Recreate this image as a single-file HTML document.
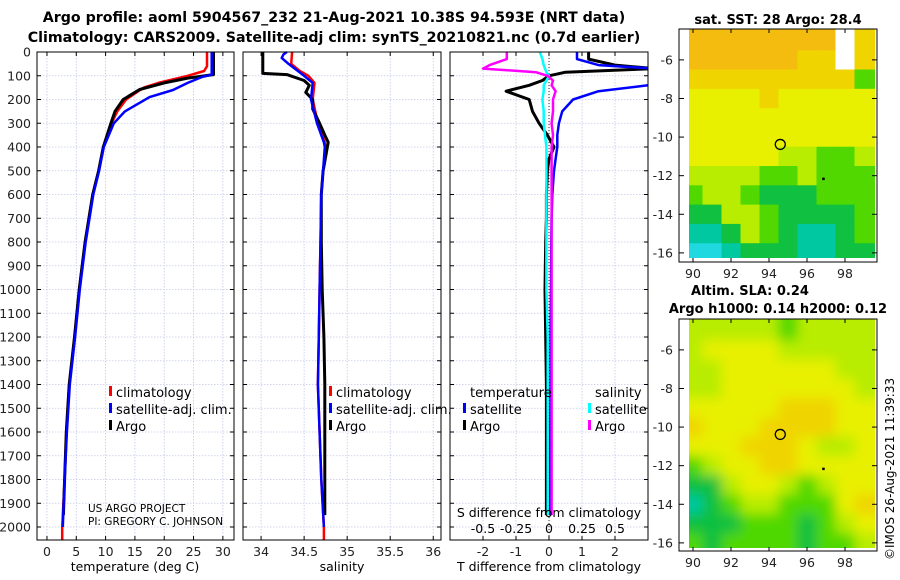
<!DOCTYPE html>
<html><head><meta charset="utf-8"><style>
body{margin:0;background:#fff;}
svg{display:block;font-family:"DejaVu Sans","Liberation Sans",sans-serif;}
</style></head><body>
<svg id="fig" width="900" height="580" viewBox="0 0 900 580" xmlns="http://www.w3.org/2000/svg">
<g font-weight="bold" font-size="14.2" text-anchor="middle" fill="#000">
<text x="334" y="22">Argo profile: aoml 5904567_232 21-Aug-2021 10.38S 94.593E (NRT data)</text>
<text x="334" y="42">Climatology: CARS2009. Satellite-adj clim: synTS_20210821.nc (0.7d earlier)</text>
</g>
<g id="panels"></g>
<g id="maps"></g>
<text x="0" y="0" transform="translate(894,560) rotate(-90)" font-size="12">©IMOS 26-Aug-2021 11:39:33</text>
</svg>
<script>
// ---- profile data (depth m) ----
const tDepthClim = [0,60,80,100,130,150,200,250,300,400,500,600,800,1000,1200,1400,1600,1800,2000,2055];
const tClim      = [27.3,27.3,26.8,24,19,16.5,13.5,12,11,9.6,8.8,7.8,6.5,5.5,4.7,3.8,3.3,3.0,2.6,2.6];
const tDepthSat  = [0,95,105,130,160,190,250,300,400,500,600,800,1000,1200,1400,1600,1800,2000];
const tSat       = [28.1,28.1,26.5,24,21.5,17.5,13.3,11.4,9.7,8.9,7.9,6.6,5.6,4.8,3.9,3.4,3.0,2.7];
const tDepthArgo = [0,95,110,130,158,200,250,300,400,500,600,800,1000,1200,1400,1600,1800,1950];
const tArgo      = [28.4,28.4,24,20,15.8,13.0,11.6,10.9,9.6,8.8,7.8,6.5,5.5,4.7,3.8,3.3,3.0,2.8];
const sDepthClim = [0,50,80,100,130,200,300,380,400,500,600,800,1000,1200,1400,1600,1800,2000,2055];
const sClim      = [34.36,34.35,34.45,34.55,34.62,34.6,34.66,34.74,34.75,34.72,34.70,34.69,34.68,34.67,34.66,34.68,34.70,34.73,34.73];
const sDepthSat  = [0,10,25,50,100,130,200,300,380,400,500,600,800,1000,1200,1400,1600,1800,2000];
const sSat       = [34.30,34.26,34.24,34.32,34.5,34.6,34.58,34.65,34.73,34.74,34.72,34.70,34.69,34.68,34.67,34.66,34.68,34.70,34.73];
const sDepthArgo = [0,90,95,120,140,170,200,240,300,350,380,420,500,600,800,1000,1200,1400,1600,1800,1950];
const sArgo      = [34.02,34.02,34.3,34.5,34.56,34.52,34.6,34.6,34.68,34.74,34.78,34.76,34.72,34.70,34.70,34.71,34.73,34.74,34.74,34.74,34.74];
const dDepth     = [0,30,55,70,85,100,120,140,165,200,250,300,350,400,450,500,600,700,800,1000,1200,1400,1600,1800,1950];
const dTSat      = [0.85,0.85,1.5,3.2,3.2,3.2,3.2,3.0,1.5,0.73,0.4,0.3,0.25,0.25,0.2,0.15,0.1,0.08,0.07,0.06,0.05,0.05,0.04,0.04,0.04];
const dTArgo     = [1.2,1.2,2.0,3.2,0.5,0.0,-0.2,-0.6,-1.3,-0.6,-0.5,-0.3,-0.05,0.15,0.0,-0.05,-0.08,-0.08,-0.1,-0.12,-0.1,-0.08,-0.08,-0.08,-0.08];
const dSSat      = [-0.07,-0.05,-0.04,-0.03,-0.02,0.0,-0.02,-0.04,-0.04,-0.05,-0.04,-0.04,-0.03,-0.02,-0.02,-0.02,-0.02,-0.02,-0.02,-0.02,-0.01,-0.01,-0.01,-0.01,-0.01];
const dSArgo     = [-0.32,-0.32,-0.45,-0.5,-0.1,-0.01,0.03,0.02,0.05,0.03,0.03,0.02,0.03,0.02,0.02,0.02,0.02,0.02,0.02,0.02,0.02,0.02,0.02,0.02,0.02];
const depthTicks = [0,100,200,300,400,500,600,700,800,900,1000,1100,1200,1300,1400,1500,1600,1700,1800,1900,2000];
const tTicks = [0,5,10,15,20,25,30];
const sTicks = [34,34.5,35,35.5,36];
const sTickLabels = ["34","34.5","35","35.5","36"];
const dTTicks = [-2,-1,0,1,2];
const dSTicks = [-0.5,-0.25,0,0.25,0.5];
const dSTickLabels = ["-0.5","-0.25","0","0.25","0.5"];
// ---- map data (rows lat -5..-16, cols lon 90..99); 0 cyan .. 7 orange, 9 blank ----
const sstGrid = [
[7,7,7,7,7,7,7,7,9,6],
[7,7,7,7,7,7,6,6,9,6],
[6,6,6,6,6,6,6,6,6,3],
[5,5,5,5,6,5,5,5,5,5],
[5,5,5,5,5,5,5,5,5,5],
[5,5,5,5,5,5,5,5,5,5],
[5,5,5,5,5,4,4,3,3,4],
[4,4,4,4,3,3,4,3,3,3],
[3,4,4,3,2,2,2,3,3,3],
[2,2,4,4,3,2,2,2,2,3],
[1,1,2,4,3,2,1,1,2,3],
[0,0,1,2,2,2,1,1,2,2]];
const slaGrid = [
[4,4,4,4,4,3,4,4,4,4],
[4,5,5,5,5,4,4,4,4,4],
[4,4,5,5,5,5,5,5,4,4],
[4,4,5,5,5,5,5,5,5,4],
[5,5,5,5,5,6,6,6,5,5],
[6,5,5,5,6,6,6,6,5,5],
[5,5,5,6,6,6,5,4,4,5],
[3,4,5,5,6,6,5,5,5,5],
[2,2,4,5,5,4,3,4,5,5],
[1,2,3,4,4,3,3,3,5,6],
[2,2,2,3,3,3,2,3,4,5],
[3,2,3,3,3,3,2,3,3,4]];
const latTicks = [-6,-8,-10,-12,-14,-16];
const lonTicks = [90,92,94,96,98];
const floatLon = 94.593, floatLat = -10.38;

const NS="http://www.w3.org/2000/svg";
function mk(tag, attrs, parent){const e=document.createElementNS(NS,tag);for(const k in attrs)e.setAttribute(k,attrs[k]);parent.appendChild(e);return e;}
const Y0=52, KY=0.2375;
const yD = d => Y0 + d*KY;
const panels = document.getElementById('panels');

function panel(name, x0, x1, xMin, xMax){
  const g = mk('g',{},panels);
  
  
  const xs = v => x0 + (v - xMin)/(xMax - xMin)*(x1 - x0);
  return {g, xs};
}
function grid(p, ticks, x0, x1){
  depthTicks.forEach(d=>{const l=mk('line',{x1:x0,x2:x1,y1:yD(d),y2:yD(d),stroke:'#c4c8e8','stroke-width':0.8,'stroke-dasharray':'1.5,1.5'},p.g);
    
    });
  ticks.forEach(v=>{const l=mk('line',{x1:p.xs(v),x2:p.xs(v),y1:Y0,y2:540,stroke:'#c4c8e8','stroke-width':0.8,'stroke-dasharray':'1.5,1.5'},p.g);
    
    });
}
function frame(p,x0,x1,ticks,labels,yLab){
  const r=mk('rect',{x:x0,y:Y0,width:x1-x0,height:540-Y0,fill:'none',stroke:'#000','stroke-width':1},p.g);
  
  
  depthTicks.forEach(d=>{mk('line',{x1:x0,x2:x0+4,y1:yD(d),y2:yD(d),stroke:'#000'},p.g);mk('line',{x1:x1-4,x2:x1,y1:yD(d),y2:yD(d),stroke:'#000'},p.g);});
  ticks.forEach((v,i)=>{mk('line',{x1:p.xs(v),x2:p.xs(v),y1:540,y2:536,stroke:'#000'},p.g);mk('line',{x1:p.xs(v),x2:p.xs(v),y1:Y0,y2:Y0+4,stroke:'#000'},p.g);
    const t=mk('text',{x:p.xs(v),y:yLab,'font-size':12.5,'text-anchor':'middle',fill:'#222'},p.g);t.textContent=labels[i];
    
    });
}
function line(p, xsF, xv, dv, color, w, name){
  const pts = dv.map((d,i)=>xsF(xv[i]).toFixed(1)+','+yD(d).toFixed(1)).join(' ');
  const l=mk('polyline',{points:pts,fill:'none',stroke:color,'stroke-width':w,'stroke-linejoin':'round'},p.g);
  
  
}
function txt(p,x,y,s,fs,name,anchor){const t=mk('text',{x,y,'font-size':fs,'text-anchor':anchor||'start',fill:'#000'},p.g);t.textContent=s;
  
  return t;}
function legMark(p,x,y,c){const r=mk('rect',{x:x,y:y-11,width:3,height:10,fill:c},p.g);
  
  }

// Panel 1: temperature
const p1 = panel('temperature-panel',37,234,-1.7,31.9);
grid(p1,tTicks,37,234);
depthTicks.forEach(d=>{const t=mk('text',{x:31,y:yD(d)+4.5,'font-size':12.5,'text-anchor':'end',fill:'#222'},p1.g);t.textContent=d;
  
  });
line(p1,p1.xs,tClim,tDepthClim,'#ff0000',2.5,'temperature-climatology-line');
line(p1,p1.xs,tArgo,tDepthArgo,'#000',3,'temperature-argo-line');
line(p1,p1.xs,tSat,tDepthSat,'#0000ff',2.5,'temperature-satellite-line');
frame(p1,37,234,tTicks,tTicks.map(String),556);
txt(p1,135,571,'temperature (deg C)',12.5,'temperature-axis-title','middle');
legMark(p1,109,397,'#f00');txt(p1,116,397,'climatology',13,'legend-climatology');
legMark(p1,109,414,'#00f');txt(p1,116,414,'satellite-adj. clim.',13,'legend-satellite-adj');
legMark(p1,109,431,'#000');txt(p1,116,431,'Argo',13,'legend-argo');
txt(p1,88,512,'US ARGO PROJECT',10.5,'project-credit');
txt(p1,88,525,'PI: GREGORY C. JOHNSON',10.5,'pi-credit');

// Panel 2: salinity
const p2 = panel('salinity-panel',243,441,33.79,36.09);
grid(p2,sTicks,243,441);
line(p2,p2.xs,sClim,sDepthClim,'#ff0000',2.5,'salinity-climatology-line');
line(p2,p2.xs,sArgo,sDepthArgo,'#000',3,'salinity-argo-line');
line(p2,p2.xs,sSat,sDepthSat,'#0000ff',2.5,'salinity-satellite-line');
frame(p2,243,441,sTicks,sTickLabels,556);
txt(p2,342,571,'salinity',12.5,'salinity-axis-title','middle');
legMark(p2,329,397,'#f00');txt(p2,336,397,'climatology',13,'legend-climatology');
legMark(p2,329,414,'#00f');txt(p2,336,414,'satellite-adj. clim.',13,'legend-satellite-adj');
legMark(p2,329,431,'#000');txt(p2,336,431,'Argo',13,'legend-argo');

// Panel 3: differences
const p3 = panel('difference-panel',450,648,-3.0,3.0);
const xsS = v => 549 + v*132;
grid(p3,dTTicks,450,648);
mk('line',{x1:549,x2:549,y1:Y0,y2:540,stroke:'#000','stroke-width':0.8,'stroke-dasharray':'1,2'},p3.g);
const clip = mk('clipPath',{id:'c3'},p3.g); mk('rect',{x:450,y:Y0,width:198,height:488},clip);
const inner = {g: mk('g',{'clip-path':'url(#c3)'},p3.g)};


line(inner,p3.xs,dTArgo,dDepth,'#000',3,'t-diff-argo-line');
line(inner,p3.xs,dTSat,dDepth,'#0000ff',2.5,'t-diff-satellite-line');
line(inner,xsS,dSSat,dDepth,'#00ffff',2.5,'s-diff-satellite-line');
line(inner,xsS,dSArgo,dDepth,'#ff00ff',2.5,'s-diff-argo-line');
frame(p3,450,648,dTTicks,dTTicks.map(String),556);
dSTicks.forEach((v,i)=>{txt(p3,xsS(v),533,dSTickLabels[i],12.5,'s-diff-tick-label','middle');});
txt(p3,549,517,'S difference from climatology',12.5,'s-diff-axis-title','middle');
txt(p3,549,571,'T difference from climatology',12.5,'t-diff-axis-title','middle');
txt(p3,470,397,'temperature',13,'legend-temperature-header');
txt(p3,595,397,'salinity',13,'legend-salinity-header');
legMark(p3,463,414,'#00f');txt(p3,470,414,'satellite',13,'legend-t-satellite');
legMark(p3,463,431,'#000');txt(p3,470,431,'Argo',13,'legend-t-argo');
legMark(p3,588,414,'#0ff');txt(p3,595,414,'satellite',13,'legend-s-satellite');
legMark(p3,588,431,'#f0f');txt(p3,595,431,'Argo',13,'legend-s-argo');

// ---- maps ----
const cmap = ['#20d8e0','#00c8a0','#10c040','#50d800','#b8ec00','#e8f000','#f0d400','#f5bc10'];
const maps = document.getElementById('maps');
function drawMap(name, grid, top, bottom, imgBottom, topLat, titles, blur){
  const g = mk('g',{},maps);
  
  
  const lx = lon => 693 + (lon-90)*19;
  const ly = lat => top + (topLat - lat)*19.3;
  const imgL = 689, imgR = 875;
  const cg = mk('g',{},g);
  if(blur){cg.setAttribute('filter','url(#blur'+name+')');
    const f=mk('filter',{id:'blur'+name,x:'-5%',y:'-5%',width:'110%',height:'110%'},g);mk('feGaussianBlur',{stdDeviation:6},f);}
  const cp = mk('clipPath',{id:'clip'+name},g); mk('rect',{x:imgL,y:top,width:imgR-imgL,height:imgBottom-top},cp);
  cg.setAttribute('clip-path','url(#clip'+name+')');
  grid.forEach((row,ri)=>row.forEach((v,ci)=>{
    const lat=-5-ri, lon=90+ci;
    const x0 = ci===0? imgL-15 : lx(lon-0.5), x1 = ci===9? imgR+15 : lx(lon+0.5);
    const y0 = ri===0? top-15 : ly(lat+0.5), y1 = ri===11? imgBottom+15 : ly(lat-0.5);
    const r=mk('rect',{x:x0,y:y0,width:x1-x0+0.5,height:y1-y0+0.5,fill:v===9?'#fff':cmap[v]},cg);
    
    
  }));
  const fr=mk('rect',{x:679,y:top,width:198,height:bottom-top,fill:'none',stroke:'#000'},g);
  
  
  latTicks.forEach(l=>{mk('line',{x1:679,x2:684,y1:ly(l),y2:ly(l),stroke:'#000'},g);mk('line',{x1:872,x2:877,y1:ly(l),y2:ly(l),stroke:'#000'},g);
    const t=mk('text',{x:673,y:ly(l)+4.5,'font-size':12.5,'text-anchor':'end',fill:'#222'},g);t.textContent=l;
    
    });
  lonTicks.forEach(l=>{mk('line',{x1:lx(l),x2:lx(l),y1:bottom,y2:bottom-4,stroke:'#000'},g);mk('line',{x1:lx(l),x2:lx(l),y1:top,y2:top+4,stroke:'#000'},g);
    const t=mk('text',{x:lx(l),y:bottom+16,'font-size':12.5,'text-anchor':'middle',fill:'#222'},g);t.textContent=l;
    
    });
  const c=mk('circle',{cx:lx(floatLon),cy:ly(floatLat),r:5,fill:'none',stroke:'#000','stroke-width':1.3},g);
  
  
  mk('rect',{x:lx(96.8),y:ly(-12.1),width:2.5,height:2.5,fill:'#000'},g);
  titles.forEach(tt=>{const t=mk('text',{x:tt[0],y:tt[1],'font-size':13,'font-weight':'bold','text-anchor':'middle',fill:'#000'},g);t.textContent=tt[2];
    
    });
}
drawMap('sst-map', sstGrid, 29, 262, 258, -4.4, [[778,24,'sat. SST: 28 Argo: 28.4']], false);
drawMap('sla-map', slaGrid, 319, 551, 548, -4.4, [[750,295,'Altim. SLA: 0.24'],[778,313,'Argo h1000: 0.14 h2000: 0.12']], true);
</script>
</body></html>
